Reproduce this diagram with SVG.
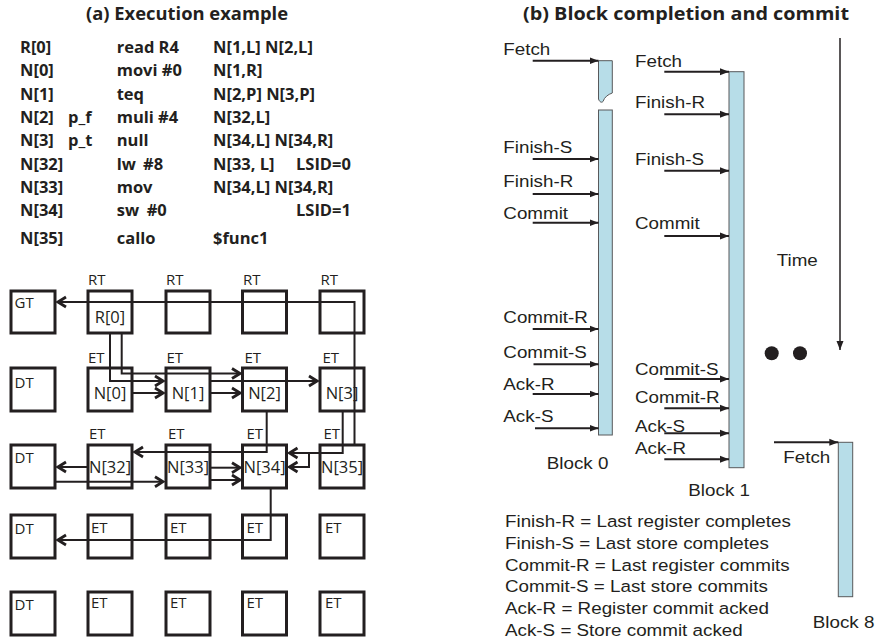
<svg xmlns="http://www.w3.org/2000/svg" width="875" height="644" viewBox="0 0 875 644">
<style>
.b{font-family:"Open Sans","Liberation Sans",sans-serif;font-weight:700;font-size:16.5px;fill:#231f20}
.ttl{font-family:"Open Sans","Liberation Sans",sans-serif;font-weight:700;font-size:18px;fill:#231f20;text-anchor:middle}
.box{fill:#fff;stroke:#231f20;stroke-width:3}
.bl{font-family:"Open Sans","Liberation Sans",sans-serif;font-size:16.5px;fill:#231f20;text-anchor:middle}
.sl{font-family:"Open Sans","Liberation Sans",sans-serif;font-size:15px;fill:#231f20}
.wire{fill:none;stroke:#231f20;stroke-width:2;marker-end:url(#chev)}
.sig{fill:none;stroke:#231f20;stroke-width:2;marker-end:url(#tri)}
.bar{fill:#b7dde8;stroke:#58595b;stroke-width:1}
.r{font-family:"Liberation Sans",Arial,sans-serif;font-size:16.5px;fill:#231f20}
</style>
<defs>
<marker id="chev" markerUnits="userSpaceOnUse" viewBox="-11 -7 13 14" markerWidth="13" markerHeight="14" refX="0" refY="0" orient="auto">
<path d="M-8,-5 L0,0 L-8,5" fill="none" stroke="#231f20" stroke-width="2.8"/>
</marker>
<marker id="tri" markerUnits="userSpaceOnUse" viewBox="-9 -4 9 8" markerWidth="9" markerHeight="8" refX="0" refY="0" orient="auto">
<path d="M-9,-3.5 L0,0 L-9,3.5 Z" fill="#231f20"/>
</marker>
</defs>
<rect width="875" height="644" fill="#fff"/>

<g id="titles">
<text class="ttl" x="187" y="20" textLength="202" lengthAdjust="spacingAndGlyphs">(a) Execution example</text>
<text class="ttl" x="686" y="20" textLength="326" lengthAdjust="spacingAndGlyphs">(b) Block completion and commit</text>
</g>

<g id="code">
<text class="b" x="20" y="53">R[0]</text><text class="b" x="116.7" y="53">read R4</text><text class="b" x="213" y="53">N[1,L] N[2,L]</text>
<text class="b" x="20" y="76.3">N[0]</text><text class="b" x="116.7" y="76.3">movi #0</text><text class="b" x="213" y="76.3">N[1,R]</text>
<text class="b" x="20" y="99.6">N[1]</text><text class="b" x="116.7" y="99.6">teq</text><text class="b" x="213" y="99.6">N[2,P] N[3,P]</text>
<text class="b" x="20" y="122.9">N[2]</text><text class="b" x="68" y="122.9">p_f</text><text class="b" x="116.7" y="122.9">muli<tspan x="158">#4</tspan></text><text class="b" x="213" y="122.9">N[32,L]</text>
<text class="b" x="20" y="146.2">N[3]</text><text class="b" x="68" y="146.2">p_t</text><text class="b" x="116.7" y="146.2">null</text><text class="b" x="213" y="146.2">N[34,L] N[34,R]</text>
<text class="b" x="20" y="169.5">N[32]</text><text class="b" x="116.7" y="169.5">lw<tspan x="143">#8</tspan></text><text class="b" x="213" y="169.5">N[33, L]</text><text class="b" x="296" y="169.5">LSID=0</text>
<text class="b" x="20" y="192.8">N[33]</text><text class="b" x="116.7" y="192.8">mov</text><text class="b" x="213" y="192.8">N[34,L] N[34,R]</text>
<text class="b" x="20" y="216.1">N[34]</text><text class="b" x="116.7" y="216.1">sw<tspan x="146.7">#0</tspan></text><text class="b" x="296" y="216.1">LSID=1</text>
<text class="b" x="20" y="243.5">N[35]</text><text class="b" x="116.7" y="243.5">callo</text><text class="b" x="213" y="243.5">$func1</text>
</g>

<g id="tile-labels">
<text class="sl" x="88" y="285">RT</text><text class="sl" x="166" y="285">RT</text><text class="sl" x="243" y="285">RT</text><text class="sl" x="320.5" y="285">RT</text>
<text class="sl" x="88" y="363">ET</text><text class="sl" x="166.5" y="363">ET</text><text class="sl" x="244.5" y="363">ET</text><text class="sl" x="322.5" y="363">ET</text>
<text class="sl" x="89" y="439">ET</text><text class="sl" x="168" y="439">ET</text><text class="sl" x="246.5" y="439">ET</text><text class="sl" x="323.5" y="439">ET</text>
</g>

<g id="tiles">
<g id="gt"><rect class="box" x="11" y="291" width="44" height="42"/><text class="sl" x="14.5" y="308">GT</text></g>
<g id="r0"><rect class="box" x="88" y="291" width="44" height="42"/><text class="bl" x="110" y="323">R[0]</text></g>
<g id="rt2"><rect class="box" x="166" y="291" width="44" height="42"/></g>
<g id="rt3"><rect class="box" x="242.5" y="291" width="44" height="42"/></g>
<g id="rt4"><rect class="box" x="320" y="291" width="44" height="42"/></g>

<g id="dt1"><rect class="box" x="11" y="368" width="44" height="43"/><text class="sl" x="14.5" y="388">DT</text></g>
<g id="n0"><rect class="box" x="88" y="368" width="44" height="43"/><text class="bl" x="110" y="399">N[0]</text></g>
<g id="n1"><rect class="box" x="166" y="368" width="44" height="43"/><text class="bl" x="188" y="399">N[1]</text></g>
<g id="n2"><rect class="box" x="242.5" y="368" width="44" height="43"/><text class="bl" x="264.5" y="399">N[2]</text></g>
<g id="n3"><rect class="box" x="320" y="368" width="44" height="43"/><text class="bl" x="342" y="399">N[3]</text></g>

<g id="dt2"><rect class="box" x="11" y="445" width="44" height="43"/><text class="sl" x="14.5" y="463">DT</text></g>
<g id="n32"><rect class="box" x="88" y="445" width="44" height="43"/><text class="bl" x="110" y="473">N[32]</text></g>
<g id="n33"><rect class="box" x="166" y="445" width="44" height="43"/><text class="bl" x="188" y="473">N[33]</text></g>
<g id="n34"><rect class="box" x="242.5" y="445" width="44" height="43"/><text class="bl" x="264.5" y="473">N[34]</text></g>
<g id="n35"><rect class="box" x="320" y="445" width="44" height="43"/><text class="bl" x="342" y="473">N[35]</text></g>

<g id="dt3"><rect class="box" x="11" y="515" width="44" height="43"/><text class="sl" x="14.5" y="534">DT</text></g>
<g id="et31"><rect class="box" x="88" y="515" width="44" height="43"/><text class="sl" x="91" y="533">ET</text></g>
<g id="et32"><rect class="box" x="166" y="515" width="44" height="43"/><text class="sl" x="170" y="533">ET</text></g>
<g id="et33"><rect class="box" x="242.5" y="515" width="44" height="43"/><text class="sl" x="246.5" y="533">ET</text></g>
<g id="et34"><rect class="box" x="320" y="515" width="44" height="43"/><text class="sl" x="325" y="533">ET</text></g>

<g id="dt4"><rect class="box" x="11" y="592" width="44" height="43"/><text class="sl" x="14.5" y="610">DT</text></g>
<g id="et41"><rect class="box" x="88" y="592" width="44" height="43"/><text class="sl" x="91" y="608">ET</text></g>
<g id="et42"><rect class="box" x="166" y="592" width="44" height="43"/><text class="sl" x="170" y="608">ET</text></g>
<g id="et43"><rect class="box" x="242.5" y="592" width="44" height="43"/><text class="sl" x="246.5" y="608">ET</text></g>
<g id="et44"><rect class="box" x="320" y="592" width="44" height="43"/><text class="sl" x="325" y="608">ET</text></g>
</g>

<g id="blocks">
<g id="block0">
<path class="bar" d="M598.5,60.7 H612.3 V93 C608,94.5 604.5,97 603,101.5 C601.5,103 599.5,102 598.5,99 Z"/>
<rect class="bar" x="598.5" y="110" width="13.8" height="325"/>
<text class="r" transform="translate(546.7 469) scale(1.14 1)">Block 0</text>
</g>
<g id="block1">
<rect class="bar" x="729" y="71.7" width="15" height="396"/>
<text class="r" transform="translate(688.3 496) scale(1.14 1)">Block 1</text>
</g>
<g id="block8">
<rect class="bar" x="838.3" y="442.3" width="14.4" height="154.4"/>
<text class="r" transform="translate(812.7 628) scale(1.14 1)">Block 8</text>
</g>
<g id="ellipsis">
<circle cx="771.7" cy="353.3" r="7" fill="#231f20"/>
<circle cx="800" cy="353.3" r="7" fill="#231f20"/>
</g>
</g>

<g id="connectors">
<g id="grid-wires">
<path class="wire" d="M354.5,445 V302 H58"/>
<path class="wire" d="M110,333 V381 H163"/>
<path class="wire" d="M121.7,333 V373.5 H240"/>
<path class="wire" d="M132,393 H163"/>
<path class="wire" d="M210,393 H240"/>
<path class="wire" d="M210,381 H317"/>
<path class="wire" d="M266.7,411 V452 H135"/>
<path class="wire" d="M342.7,411 V453 H289.5"/>
<path class="wire" d="M309,453 V467 H289.5"/>
<path class="wire" d="M88,467 H58"/>
<path class="wire" d="M55,481.7 H163"/>
<path class="wire" d="M210,467.7 H240"/>
<path class="wire" d="M210,480 H240"/>
<path class="wire" d="M270.7,488 V540 H58"/>
</g>
<g id="signals">
<path class="sig" d="M532.7,60.7 H598.5"/>
<path class="sig" d="M532.7,159 H598.5"/>
<path class="sig" d="M532.7,194 H598.5"/>
<path class="sig" d="M532.7,222.7 H598.5"/>
<path class="sig" d="M532.7,329 H598.5"/>
<path class="sig" d="M533.5,364.3 H598.5"/>
<path class="sig" d="M532.7,394 H598.5"/>
<path class="sig" d="M535,428.3 H598.5"/>
<path class="sig" d="M664.3,71.7 H729"/>
<path class="sig" d="M664.3,114.3 H729"/>
<path class="sig" d="M664.3,170.7 H729"/>
<path class="sig" d="M664.3,236 H729"/>
<path class="sig" d="M664.3,379 H729"/>
<path class="sig" d="M664.3,408.3 H729"/>
<path class="sig" d="M664.3,433.3 H729"/>
<path class="sig" d="M664.3,459.3 H729"/>
<path class="sig" d="M774,442.3 H838.3"/>
<path d="M840,38 V350" fill="none" stroke="#231f20" stroke-width="1.5" marker-end="url(#tri)"/>
</g>
<g id="signal-labels">
<text class="r" transform="translate(503.3 55) scale(1.14 1)">Fetch</text>
<text class="r" transform="translate(503.3 152.7) scale(1.14 1)">Finish-S</text>
<text class="r" transform="translate(503.3 187.3) scale(1.14 1)">Finish-R</text>
<text class="r" transform="translate(503.3 219) scale(1.14 1)">Commit</text>
<text class="r" transform="translate(503.3 322.7) scale(1.14 1)">Commit-R</text>
<text class="r" transform="translate(503.3 358) scale(1.14 1)">Commit-S</text>
<text class="r" transform="translate(503.3 390) scale(1.14 1)">Ack-R</text>
<text class="r" transform="translate(503.3 421.7) scale(1.14 1)">Ack-S</text>
<text class="r" transform="translate(635 66.7) scale(1.14 1)">Fetch</text>
<text class="r" transform="translate(635 108.3) scale(1.14 1)">Finish-R</text>
<text class="r" transform="translate(635 165) scale(1.14 1)">Finish-S</text>
<text class="r" transform="translate(635 229.3) scale(1.14 1)">Commit</text>
<text class="r" transform="translate(635 375) scale(1.14 1)">Commit-S</text>
<text class="r" transform="translate(635 403.3) scale(1.14 1)">Commit-R</text>
<text class="r" transform="translate(635 431.7) scale(1.14 1)">Ack-S</text>
<text class="r" transform="translate(635 454) scale(1.14 1)">Ack-R</text>
<text class="r" transform="translate(783.3 462.7) scale(1.14 1)">Fetch</text>
<text class="r" transform="translate(776.7 266) scale(1.14 1)">Time</text>
</g>
</g>

<g id="legend">
<text class="r" transform="translate(505 527) scale(1.14 1)">Finish-R = Last register completes</text>
<text class="r" transform="translate(505 548.8) scale(1.14 1)">Finish-S = Last store completes</text>
<text class="r" transform="translate(505 570.6) scale(1.14 1)">Commit-R = Last register commits</text>
<text class="r" transform="translate(505 592.4) scale(1.14 1)">Commit-S = Last store commits</text>
<text class="r" transform="translate(505 614.2) scale(1.14 1)">Ack-R = Register commit acked</text>
<text class="r" transform="translate(505 636) scale(1.14 1)">Ack-S = Store commit acked</text>
</g>
</svg>
